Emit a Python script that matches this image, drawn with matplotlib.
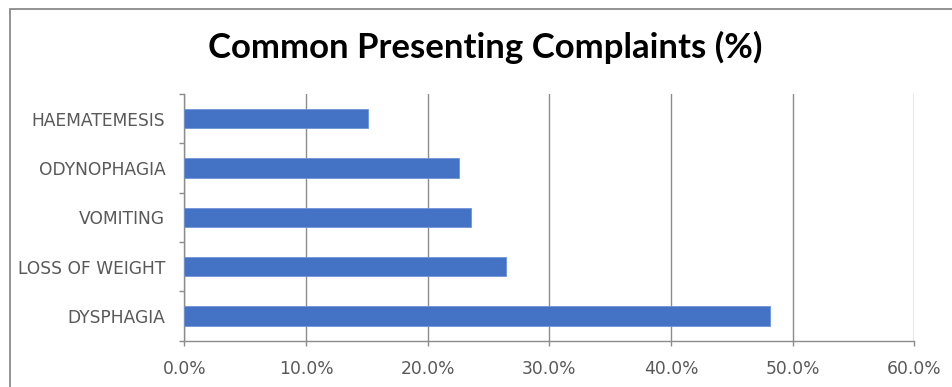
import matplotlib.pyplot as plt
from matplotlib.patches import Rectangle
from matplotlib.ticker import FuncFormatter, FixedLocator

# Presenting complaints, bottom to top as they appear on the axis
complaints = ['DYSPHAGIA', 'LOSS OF WEIGHT', 'VOMITING', 'ODYNOPHAGIA', 'HAEMATEMESIS']
percent = [48.1, 26.4, 23.6, 22.6, 15.1]
x_ticks = [0, 10, 20, 30, 40, 50, 60]

grey_text = '#595959'
grid_grey = '#8c8c8c'

fig = plt.figure(figsize=(9.52, 3.87), dpi=100)

# chart area border (cut off at the right and bottom)
fig.patches.append(Rectangle((10 / 952, -0.1), 1.2, 1 - 9 / 387 + 0.1,
                             transform=fig.transFigure, fill=False,
                             edgecolor='#8a8a8a', linewidth=1.3))

ax = fig.add_axes([184.3 / 952, 1 - 340.7 / 387, 730 / 952, (340.7 - 94) / 387])

y = list(range(len(complaints)))
ax.barh(y, percent, height=0.39, color='#4472C4', edgecolor='#6f94d6',
        linewidth=0.6, zorder=3)

ax.set_xlim(0, 60)
ax.set_ylim(-0.5, len(complaints) - 0.5)
ax.xaxis.set_major_locator(FixedLocator(x_ticks))
ax.xaxis.set_major_formatter(FuncFormatter(lambda v, p: f'{v:.1f}%'))
ax.grid(axis='x', color=grid_grey, linewidth=1.0, zorder=0)

ax.set_yticks(y)
ax.set_yticklabels(complaints)
ax.set_yticks([i - 0.5 for i in range(len(complaints) + 1)], minor=True)
ax.tick_params(axis='y', which='major', length=0, pad=13.7,
               labelsize=12.3, labelcolor=grey_text)
ax.tick_params(axis='y', which='minor', length=3.6, color=grid_grey, width=1.0)
ax.tick_params(axis='x', length=3.6, color=grid_grey, width=1.0, pad=10,
               labelsize=12.3, labelcolor=grey_text)

for side in ['top', 'right']:
    ax.spines[side].set_visible(False)
for side in ['left', 'bottom']:
    ax.spines[side].set_color(grid_grey)
    ax.spines[side].set_linewidth(1.0)

fig.text(0.51, 1 - 58.3 / 387, 'Common Presenting Complaints (%)',
         ha='center', va='baseline', fontsize=25, fontweight='bold',
         family='Lato', color='black')

fig.savefig('out.png', dpi=100)
